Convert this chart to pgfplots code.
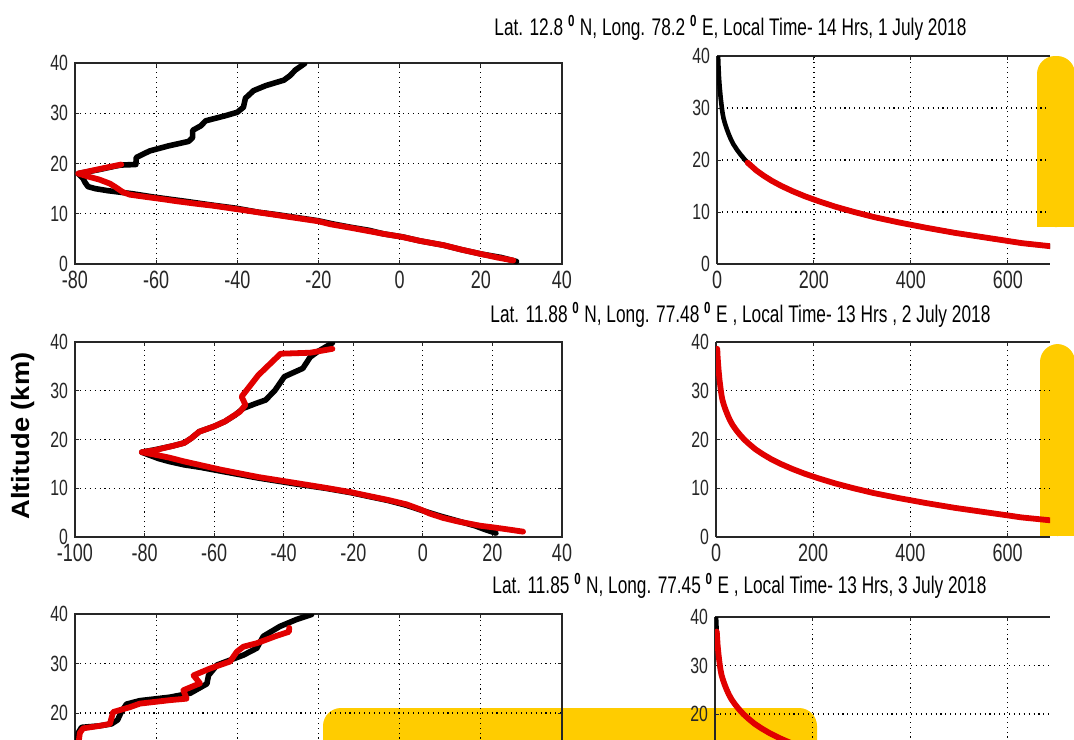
\documentclass[border=0pt]{standalone}
\usepackage{pgfplots}
\pgfplotsset{compat=1.18}
\usepackage{graphicx}
\usepackage{fontspec}
\setmainfont{Liberation Sans}
\newfontfamily\tickfont[FakeStretch=0.72]{Liberation Sans}
\definecolor{yel}{HTML}{FFCC00}
\definecolor{lred}{RGB}{225,0,0}

\pgfplotsset{
  panel/.style={
    scale only axis,
    anchor=south west,
    ymin=0, ymax=40, ytick={0,10,20,30,40},
    grid=major,
    grid style={black, line width=0.55pt, dash pattern=on 0.55pt off 1.9pt},
    axis line style={black!85, line width=0.6pt},
    tick style={black!85, line width=0.5pt},
    major tick length=2pt,
    tick align=inside,
    /pgf/number format/assume math mode=true,
    yticklabel style={font=\tickfont\fontsize{11}{12}\selectfont, text=black!85},
    xticklabel style={font=\tickfont\fontsize{12.5}{13}\selectfont, text=black!85},
  },
  rpanel/.style={panel, xmin=0, xmax=687, xtick={0,200,400,600},
    axis x line*=box, axis y line*=left, axis line style={-}},
  blk/.style={black, line width=2.8pt, line join=round, line cap=round},
  rd/.style={lred, line width=2.9pt, line join=round, line cap=round},
  blkt/.style={black, line width=2.3pt, line join=round, line cap=round},
}

% pressure profile (hPa, km)
\pgfplotstableread{
p alt
690 3.4
630 4
560 5
490 6
430 7
375 8
325 9
283 10
245 11
212 12
182 13
156 14
133 15
113 16
96 17
81 18
69 19
58 20
49 21
41 22
34 23
28.5 24
24 25
20 26
16.5 27
13.5 28
11.5 29
10 30
7.5 32
5.5 34
4 36
3 38
2.2 40
}\presfull

\pgfplotstableread{
p alt
690 3.4
630 4
560 5
490 6
430 7
375 8
325 9
283 10
245 11
212 12
182 13
156 14
133 15
113 16
96 17
81 18
69 19
63 19.5
}\presloweronly

\pgfplotstableread{
p alt
690 3.4
630 4
560 5
490 6
430 7
375 8
325 9
283 10
245 11
212 12
182 13
156 14
133 15
113 16
96 17
81 18
69 19
58 20
49 21
41 22
34 23
28.5 24
24 25
20 26
16.5 27
13.5 28
11.5 29
10 30
7.5 32
5.5 34
4 36
3 37.5
2.6 38.6
}\prestwo

\pgfplotstableread{
p alt
690 3.4
630 4
560 5
490 6
430 7
375 8
325 9
283 10
245 11
212 12
182 13
156 14
133 15
113 16
96 17
81 18
69 19
58 20
49 21
41 22
34 23
28.5 24
24 25
20 26
16.5 27
13.5 28
11.5 29
10 30
7.5 32
5.5 34
4.2 36
3.6 37
}\presthree

\begin{document}
\begin{tikzpicture}
\useasboundingbox (0,0) rectangle (537pt,-369.5pt);
\clip (0,0) rectangle (537pt,-369.5pt);
\fill[white] (0,0) rectangle (537pt,-369.5pt);

\begin{scope}[x=0.5pt,y=-0.5pt]
 \fill[yel, rounded corners=9pt] (1037,56) rectangle (1075,227);
 \fill[yel] (1037,140) rectangle (1075,227);
 \fill[yel, rounded corners=9pt] (1040,344) rectangle (1075,536);
 \fill[yel] (1040,420) rectangle (1075,536);
 \fill[yel, rounded corners=9pt] (323,708) rectangle (817,790);
\end{scope}

% ---------- Row 1 ----------
\begin{axis}[panel, at={(37.5pt,-132pt)}, width=243.5pt, height=100.5pt,
  xmin=-80, xmax=40, xtick={-80,-60,-40,-20,0,20,40}]
\addplot[blk] coordinates {
(28.8,0.5) (25,1.3) (20,2.0) (15,2.9) (10.8,3.75) (5,4.6) (0.7,5.4) (-4,6.0)
(-7.5,6.7) (-12,7.3) (-16.6,8.0) (-20,8.6) (-25,9.2) (-30,9.8) (-34.8,10.3)
(-40.3,11.1) (-46,11.7) (-53,12.5) (-60.4,13.3) (-66,14.0) (-69,14.3) (-72,14.6)
(-75,15.0) (-76.8,15.4) (-77.5,16.2) (-78,17.0) (-79.2,18.0) (-74,18.8) (-70,19.5)
(-68.6,19.7) (-65,19.8) (-64.9,21.2) (-61.6,22.5) (-57,23.5) (-52,24.4) (-51,25.2)
(-51,26.6) (-49,27.5) (-47.8,28.5) (-43,29.5) (-40,30.2) (-38.5,31.2) (-38,33)
(-36,34.5) (-33,35.5) (-28.5,36.6) (-27,37.5) (-25.7,38.6) (-23.4,39.9)};
\addplot[rd] coordinates {
(28,0.7) (24,1.3) (20,2.0) (15,2.9) (10.8,3.75) (5,4.6) (0.5,5.4) (-4,6.0)
(-8,6.6) (-12,7.2) (-17,7.9) (-20,8.5) (-25,9.1) (-30,9.7) (-35,10.3) (-40,10.9)
(-46,11.6) (-50.2,12.0) (-55,12.5) (-58.4,12.9) (-63,13.4) (-66.5,13.8) (-68.2,14.3)
(-70,15.3) (-71.4,16.0) (-74,16.8) (-76.3,17.3) (-79.2,18.0) (-74,18.9) (-68.6,19.8)};
\end{axis}

\begin{axis}[rpanel, at={(358.5pt,-132pt)}, width=166.5pt, height=104pt]
\addplot[blkt] table[x=p,y=alt] {\presfull};
\addplot[rd] table[x=p,y=alt] {\presloweronly};
\end{axis}

% ---------- Row 2 ----------
\begin{axis}[panel, at={(37.5pt,-268.5pt)}, width=243.5pt, height=97.5pt,
  xmin=-100, xmax=40, xtick={-100,-80,-60,-40,-20,0,20,40}]
\addplot[blk] coordinates {
(21,0.8) (18,1.5) (15,2.3) (10,3.3) (5,4.3) (0,5.4) (-4.7,6.5) (-10,7.5)
(-15.4,8.3) (-20.7,9.1) (-28,10.0) (-36.7,10.9) (-47.3,12.1) (-58,13.5) (-64,14.3)
(-68.6,14.8) (-73,15.5) (-76,16.1) (-79,16.9) (-80.8,17.4) (-77,17.9) (-71.8,18.7)
(-68.6,19.3) (-66.5,20.3) (-64.3,21.6) (-60,22.7) (-56.9,23.7) (-54,25) (-51.6,26.4)
(-48,27.4) (-45.2,28.1) (-42.5,30.1) (-39.8,32.9) (-34.5,34.6) (-32.4,36.9)
(-30.3,38) (-26,39.8)};
\addplot[rd] coordinates {
(28.8,1.1) (25,1.5) (20,2.0) (16.6,2.3) (10,3.2) (5.9,3.9) (2,4.8) (-0.5,5.6)
(-4.7,6.7) (-10,7.6) (-15.4,8.4) (-20.7,9.2) (-28,10.1) (-36.7,11.1) (-47.3,12.3)
(-58,13.8) (-63,14.6) (-68.6,15.5) (-73,16.3) (-77.1,16.9) (-80.8,17.4) (-77.1,17.8)
(-71.8,18.7) (-68.6,19.3) (-66.5,20.3) (-64.3,21.6) (-60,22.7) (-56.9,23.7)
(-52.6,25.7) (-51,27.1) (-52.1,28.8) (-47.3,33.2) (-40.9,37.6) (-32.4,37.8) (-26,38.6)};
\end{axis}

\begin{axis}[rpanel, at={(358pt,-268.5pt)}, width=167pt, height=97.5pt]
\addplot[rd] table[x=p,y=alt] {\prestwo};
\end{axis}

% ---------- Row 3 (cut off at the bottom, as in the reference) ----------
\begin{axis}[panel, at={(37.5pt,-406pt)}, width=243.5pt, height=99pt,
  xmin=-80, xmax=40, xtick={-80,-60,-40,-20,0,20,40}, xticklabels={},
  ytick={20,30,40}]
\addplot[blk] coordinates {
(-79.5,13.5) (-79.2,16.0) (-78.4,17.1) (-74,17.4) (-71,17.8) (-69.5,18.6) (-68.6,20.2)
(-67.3,21.8) (-64,22.5) (-56.6,23.2) (-51.6,24) (-47.5,25.9) (-47.1,27.6) (-45,29.7)
(-38.5,31.7) (-35.2,33.1) (-33.6,35.5) (-29.5,37.5) (-25.4,38.9) (-21.7,39.9)};
\addplot[rd] coordinates {
(-79.2,13.5) (-78.8,16.0) (-78,16.9) (-74,17.4) (-71.4,17.8) (-70.6,20.2) (-66.4,21.2)
(-64,21.9) (-56.6,22.6) (-52.5,22.9) (-53.3,24.6) (-49.2,26) (-50.8,27.6) (-46.7,29)
(-41.8,30.4) (-40.1,32.4) (-38.5,33.4) (-35.2,34.1) (-30.3,35.6) (-27.3,36.4) (-27.2,37.2)};
\end{axis}

\begin{axis}[rpanel, at={(357.5pt,-405.5pt)}, width=167.5pt, height=97pt,
  xticklabels={}, ytick={20,30,40}]
\addplot[blkt] table[x=p,y=alt] {\presfull};
\addplot[rd] table[x=p,y=alt] {\presthree};
\end{axis}

% ---------- Texts ----------
\begin{scope}[x=0.5pt,y=-0.5pt]
\node[anchor=base west, inner sep=0] at (494,35) {\resizebox{236pt}{\height}{\fontsize{12}{14}\selectfont Lat. 12.8 \textsuperscript{\textbf{0}} N, Long. 78.2 \textsuperscript{\textbf{0}} E, Local Time- 14 Hrs, 1 July 2018}};
\node[anchor=base west, inner sep=0] at (490,322) {\resizebox{250pt}{\height}{\fontsize{12}{14}\selectfont Lat. 11.88 \textsuperscript{\textbf{0}} N, Long. 77.48 \textsuperscript{\textbf{0}} E , Local Time- 13 Hrs , 2 July 2018}};
\node[anchor=base west, inner sep=0] at (492,593) {\resizebox{247pt}{\height}{\fontsize{12}{14}\selectfont Lat. 11.85 \textsuperscript{\textbf{0}} N, Long. 77.45 \textsuperscript{\textbf{0}} E , Local Time- 13 Hrs, 3 July 2018}};
\node[rotate=90, inner sep=0] at (23,436) {\resizebox{83.5pt}{\height}{\fontsize{12.5}{14}\selectfont\bfseries Altitude (km)}};
\end{scope}
\end{tikzpicture}
\end{document}
